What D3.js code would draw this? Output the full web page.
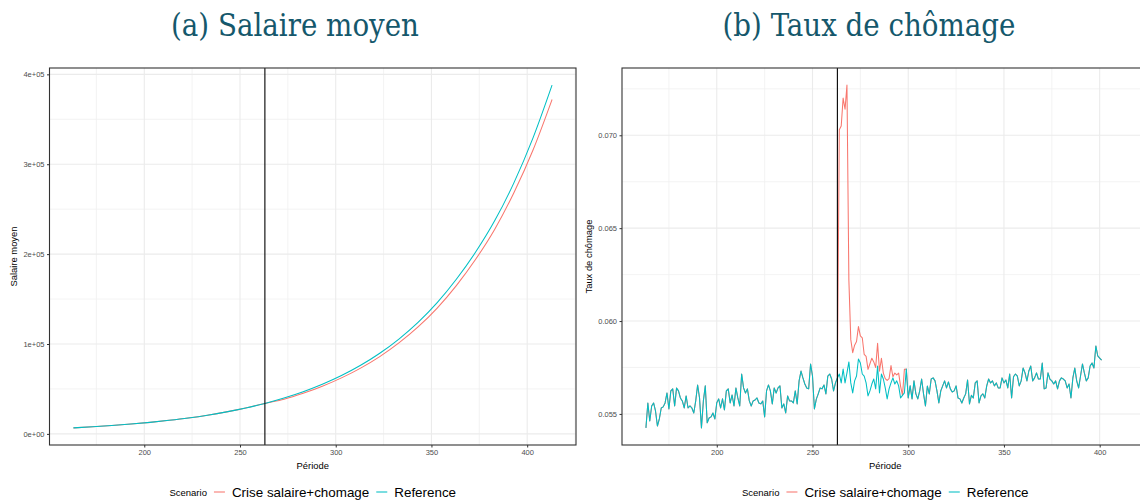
<!DOCTYPE html>
<html><head><meta charset="utf-8">
<script src="https://cdn.jsdelivr.net/npm/d3@7/dist/d3.min.js"></script>
<style>body{margin:0;background:#fff}svg{display:block}</style>
</head><body><svg id="c" width="1140" height="500"></svg>
<script>
// ---------- DATA ----------
const seriesNames = ["Crise salaire+chomage", "Reference"];
const seriesColors = ["#F8766D", "#00BFC4"];
const crisisPeriod = 263;
const periodLimits = [163, 413];

// (a) Salaire moyen, read every 10 periods
const salairePeriods = [163,173,183,193,203,213,223,233,243,253,263,273,283,293,303,313,323,333,343,353,363,373,383,393,403,413];
const salaireReference = [6700,7900,9300,10900,12800,15100,17700,20800,24500,28800,33900,39900,46900,55200,64900,76300,89700,105500,124000,146000,172000,202000,237000,279000,329000,388000];
const salaireCrise = [6700,7900,9300,10900,12800,15100,17700,20800,24500,28800,33900,38500,45100,53000,62300,73200,86000,101200,119000,140000,165000,194000,227500,268000,315500,372000];

// (b) Taux de chômage, Reference, one value per period from 163
const chomageStart = 163;
const chomageReference = [
0.05425,0.05559,0.05462,0.05543,0.05559,0.05516,0.05435,0.05473,0.05532,0.05538,
0.05559,0.05613,0.05527,0.05624,0.05635,0.05543,0.05640,0.05624,0.05586,0.05570,
0.05532,0.05597,0.05532,0.05543,0.05532,0.05505,0.05570,0.05656,0.05586,0.05425,
0.05570,0.05651,0.05452,0.05478,0.05484,0.05505,0.05473,0.05560,0.05581,0.05532,
0.05581,0.05522,0.05624,0.05635,0.05559,0.05602,0.05543,0.05640,0.05586,0.05543,
0.05715,0.05640,0.05613,0.05635,0.05570,0.05543,0.05570,0.05575,0.05586,0.05559,
0.05554,0.05570,0.05484,0.05624,0.05656,0.05624,0.05554,0.05640,0.05613,0.05640,
0.05651,0.05532,0.05554,0.05505,0.05597,0.05570,
0.05570,0.05559,0.05624,0.05554,0.05678,0.05731,0.05694,0.05661,0.05640,0.05635,
0.05769,0.05704,0.05527,0.05580,0.05608,0.05640,0.05635,0.05656,0.05608,0.05704,
0.05715,0.05688,0.05624,0.05667,0.05694,0.05715,0.05667,0.05742,0.05667,0.05721,
0.05780,0.05667,0.05613,0.05678,0.05704,0.05796,0.05774,0.05715,0.05704,0.05667,
0.05597,0.05624,0.05661,0.05688,0.05635,0.05758,0.05613,0.05715,0.05688,0.05640,
0.05581,0.05635,0.05667,0.05694,0.05661,0.05678,0.05651,0.05586,0.05600,0.05613,
0.05742,0.05586,0.05651,0.05581,0.05678,0.05608,0.05581,0.05624,0.05688,0.05608,
0.05543,0.05650,0.05608,0.05688,0.05694,0.05678,0.05624,0.05559,0.05624,0.05651,
0.05678,
0.05640,0.05672,0.05635,0.05618,0.05624,0.05651,0.05586,0.05581,0.05559,0.05586,
0.05608,0.05683,0.05554,0.05600,0.05586,0.05667,0.05678,0.05559,0.05597,0.05608,
0.05586,0.05651,0.05688,0.05667,0.05678,0.05651,0.05667,0.05640,0.05640,0.05694,
0.05667,0.05683,0.05640,0.05715,0.05586,0.05700,0.05715,0.05704,0.05651,0.05678,
0.05747,0.05721,0.05678,0.05731,0.05758,0.05678,0.05694,0.05721,0.05688,0.05688,
0.05774,0.05635,0.05640,0.05721,0.05688,0.05678,0.05661,0.05678,0.05635,0.05678,
0.05694,0.05688,0.05678,0.05640,0.05661,0.05586,0.05694,0.05747,0.05678,0.05640,
0.05704,0.05769,0.05721,0.05678,0.05694,0.05758,0.05774,0.05747,0.05866,0.05812,
0.05801,0.05790
];
// Crisis scenario where it departs from the reference (periods 264..298)
const chomageCriseStart = 264;
const chomageCriseSegment = [
0.0703,0.0705,0.0720,0.0714,0.0727,0.0622,0.0590,0.0583,0.0587,0.0589,
0.0597,0.0592,0.0591,0.0582,0.0581,0.0574,0.0577,0.0580,0.0578,0.0575,
0.0588,0.0573,0.0580,0.0572,0.0569,0.0568,0.0569,0.0576,0.0570,0.0572,
0.0571,0.0572,0.0565,0.0560,0.0574
];

const periodTicks = [200,250,300,350,400];
const salaireTicks = [0,100000,200000,300000,400000];
const salaireTickLabels = ["0e+00","1e+05","2e+05","3e+05","4e+05"];
const chomageTicks = [0.055,0.060,0.065,0.070];
const chomageTickLabels = ["0.055","0.060","0.065","0.070"];

// ---------- BUILD SERIES ----------
const chomageRefPts = chomageReference.map((v,i)=>({x:chomageStart+i,y:v}));
const chomageCrisePts = chomageRefPts.map(d=>{
  const k = d.x - chomageCriseStart;
  return {x:d.x, y:(k>=0 && k<chomageCriseSegment.length) ? chomageCriseSegment[k] : d.y};
});
const salaireRefPts = salairePeriods.map((p,i)=>({x:p,y:salaireReference[i]}));
const salaireCrisePts = salairePeriods.map((p,i)=>({x:p,y:salaireCrise[i]}));

// ---------- DRAW ----------
const svg = d3.select("#c");
svg.append("rect").attr("width",1140).attr("height",500).attr("fill","#fff");
const AX_FONT = "'Liberation Sans', Arial, Helvetica, sans-serif";
const expand = ([a,b]) => [a-(b-a)*0.05, b+(b-a)*0.05];
let clipId = 0;

function drawPanel(cfg){
  const {x0,x1,y0,y1} = cfg;
  const allPts = cfg.series.flatMap(s=>s.pts);
  const xs = d3.scaleLinear().domain(expand(periodLimits)).range([x0,x1]);
  const ys = d3.scaleLinear().domain(expand(d3.extent(allPts,d=>d.y))).range([y1,y0]);
  const g = svg.append("g");
  const id = "clip"+(clipId++);
  g.append("clipPath").attr("id",id).append("rect").attr("x",x0).attr("y",y0).attr("width",x1-x0).attr("height",y1-y0);

  // grid
  const xd = xs.domain(), yd = ys.domain();
  const xStep = cfg.xTicks[1]-cfg.xTicks[0], yStep = cfg.yTicks[1]-cfg.yTicks[0];
  const xMinor = d3.range(cfg.xTicks[0]-xStep/2, xd[1], xStep).filter(v=>v>=xd[0]);
  const yMinor = d3.range(cfg.yTicks[0]-yStep/2, yd[1], yStep).filter(v=>v>=yd[0]);
  const grid = g.append("g").attr("clip-path",`url(#${id})`);
  grid.selectAll(".xm").data(xMinor).join("line").attr("x1",d=>xs(d)).attr("x2",d=>xs(d)).attr("y1",y0).attr("y2",y1).attr("stroke","#f0f0f0").attr("stroke-width",0.8);
  grid.selectAll(".ym").data(yMinor).join("line").attr("y1",d=>ys(d)).attr("y2",d=>ys(d)).attr("x1",x0).attr("x2",x1).attr("stroke","#f0f0f0").attr("stroke-width",0.8);
  grid.selectAll(".xM").data(cfg.xTicks).join("line").attr("x1",d=>xs(d)).attr("x2",d=>xs(d)).attr("y1",y0).attr("y2",y1).attr("stroke","#ebebeb").attr("stroke-width",1.1);
  grid.selectAll(".yM").data(cfg.yTicks).join("line").attr("y1",d=>ys(d)).attr("y2",d=>ys(d)).attr("x1",x0).attr("x2",x1).attr("stroke","#ebebeb").attr("stroke-width",1.1);

  // lines
  const line = d3.line().x(d=>xs(d.x)).y(d=>ys(d.y)).curve(cfg.curve||d3.curveLinear);
  const lg = g.append("g").attr("clip-path",`url(#${id})`);
  cfg.series.forEach(s=>{
    lg.append("path").attr("d",line(s.pts)).attr("fill","none").attr("stroke",s.color).attr("stroke-width",1.05).attr("stroke-linejoin","round");
  });
  lg.append("line").attr("x1",xs(crisisPeriod)).attr("x2",xs(crisisPeriod)).attr("y1",y0).attr("y2",y1).attr("stroke","#000").attr("stroke-width",1.1);

  // border
  g.append("rect").attr("x",x0).attr("y",y0).attr("width",x1-x0).attr("height",y1-y0).attr("fill","none").attr("stroke","#333").attr("stroke-width",1.1);

  // axes
  const xAxis = d3.axisBottom(xs).tickValues(cfg.xTicks).tickSize(2.5).tickPadding(2.5);
  const xa = g.append("g").attr("transform",`translate(0,${y1})`).call(xAxis);
  const yAxis = d3.axisLeft(ys).tickValues(cfg.yTicks).tickFormat((d,i)=>cfg.yLabels[i]).tickSize(2.5).tickPadding(2.5);
  const ya = g.append("g").attr("transform",`translate(${x0},0)`).call(yAxis);
  [xa,ya].forEach(a=>{
    a.select(".domain").remove();
    a.selectAll(".tick line").attr("stroke","#333").attr("stroke-width",1);
    a.selectAll(".tick text").attr("fill","#4d4d4d").style("font-family",AX_FONT).style("font-size","7.5px");
  });

  // axis titles
  g.append("text").attr("x",(x0+x1)/2).attr("y",468.5).attr("text-anchor","middle")
    .style("font-family",AX_FONT).style("font-size","9.4px").attr("fill","#000").text("Période");
  g.append("text").attr("transform",`translate(${cfg.yTitleX},${(y0+y1)/2}) rotate(-90)`).attr("text-anchor","middle")
    .style("font-family",AX_FONT).style("font-size","9.4px").attr("fill","#000").text(cfg.yTitle);

  // title
  g.append("text").attr("x",cfg.titleX).attr("y",36).attr("text-anchor","middle")
    .style("font-family","'DejaVu Serif Condensed','DejaVu Serif',serif").style("font-stretch","condensed")
    .style("font-size","30.8px").attr("fill","#15586c").text(cfg.title);

  // legend
  const leg = g.append("g");
  const parts = [];
  const t0 = leg.append("text").attr("y",495.5).style("font-family",AX_FONT).style("font-size","9.5px").attr("fill","#000").text("Scenario");
  parts.push({node:t0, w:t0.node().getComputedTextLength()});
  cfg.series.forEach(s=>{
    const k = leg.append("line").attr("stroke",s.color).attr("stroke-width",1.05).attr("y1",492).attr("y2",492);
    parts.push({key:k, w:11});
    const t = leg.append("text").attr("y",497).style("font-family",AX_FONT).style("font-size","13.4px").attr("fill","#000").text(s.name);
    parts.push({node:t, w:t.node().getComputedTextLength()});
  });
  const gap = 7;
  const total = d3.sum(parts,p=>p.w) + gap*(parts.length-1);
  let cx = (x0+x1)/2 - total/2;
  parts.forEach(p=>{
    if(p.node) p.node.attr("x",cx); else p.key.attr("x1",cx).attr("x2",cx+p.w);
    cx += p.w + gap;
  });
}

drawPanel({
  x0:49.5, x1:576, y0:68, y1:445,
  series:[{name:seriesNames[0],color:seriesColors[0],pts:salaireCrisePts},{name:seriesNames[1],color:seriesColors[1],pts:salaireRefPts}],
  xTicks:periodTicks, yTicks:salaireTicks, yLabels:salaireTickLabels,
  yTitle:"Salaire moyen", yTitleX:17, title:"(a) Salaire moyen", titleX:295,
  curve:d3.curveMonotoneX
});
drawPanel({
  x0:622, x1:1148.5, y0:68, y1:445,
  series:[{name:seriesNames[0],color:seriesColors[0],pts:chomageCrisePts},{name:seriesNames[1],color:seriesColors[1],pts:chomageRefPts}],
  xTicks:periodTicks, yTicks:chomageTicks, yLabels:chomageTickLabels,
  yTitle:"Taux de chômage", yTitleX:592, title:"(b) Taux de chômage", titleX:869
});
</script></body></html>
